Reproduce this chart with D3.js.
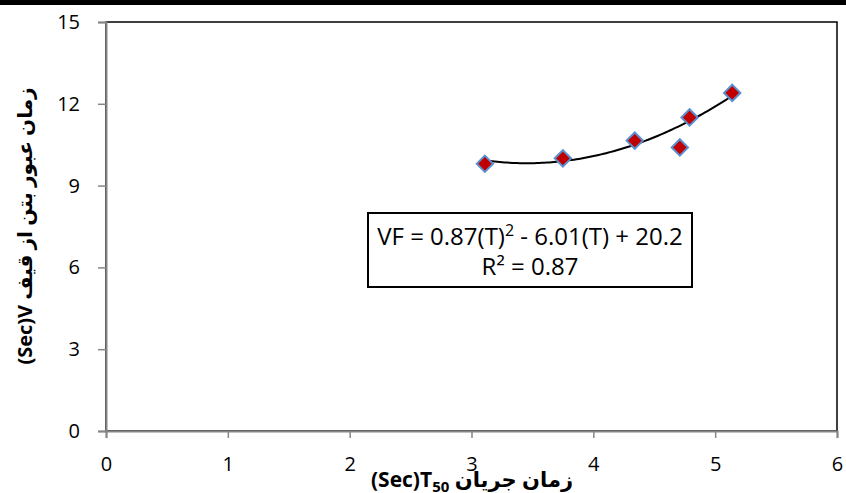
<!DOCTYPE html>
<html>
<head>
<meta charset="utf-8">
<script src="https://cdn.jsdelivr.net/npm/d3@7"></script>
<style>
  body { margin: 0; background: #fff; }
  svg { display: block; }
</style>
</head>
<body>
<svg width="846" height="493"></svg>
<script>
// data
const t50 = [3.11, 3.75, 4.34, 4.71, 4.79, 5.14];
const vFunnel = [9.8, 10.0, 10.65, 10.4, 11.5, 12.4];
const xTicks = [0, 1, 2, 3, 4, 5, 6];
const yTicks = [0, 3, 6, 9, 12, 15];
// trend line coefficients as printed on the chart
const coeffs = [0.87, -6.01, 20.2];
const eqLine = 'VF = 0.87(T)';
const eqLineRest = ' - 6.01(T) + 20.2';
const r2Text = '0.87';

const svg = d3.select('svg');
const WIDTH = 846, HEIGHT = 493;
const margin = { left: 106, right: 9, top: 22, bottom: 62 };

const x = d3.scaleLinear().domain([0, 6]).range([margin.left, WIDTH - margin.right]);
const y = d3.scaleLinear().domain([0, 15]).range([HEIGHT - margin.bottom, margin.top]);

svg.append('rect').attr('x', 0).attr('y', 0).attr('width', WIDTH).attr('height', 5).attr('fill', '#000');

// plot frame
svg.append('rect')
    .attr('x', x(0)).attr('y', y(15))
    .attr('width', x(6) - x(0)).attr('height', y(0) - y(15))
    .attr('fill', 'none').attr('stroke', '#000').attr('stroke-width', 1.5);

const font = '"Open Sans", "DejaVu Sans", sans-serif';

const xAxis = svg.append('g')
    .attr('transform', `translate(0,${y(0)})`)
    .call(d3.axisBottom(x).tickValues(xTicks).tickSize(7).tickPadding(19).tickFormat(d3.format('d')));
const yAxis = svg.append('g')
    .attr('transform', `translate(${x(0)},0)`)
    .call(d3.axisLeft(y).tickValues(yTicks).tickSize(8).tickPadding(18).tickFormat(d3.format('d')));

[xAxis, yAxis].forEach(g => {
    g.select('.domain').attr('stroke', '#868686').attr('stroke-width', 2);
    g.selectAll('.tick line').attr('stroke', '#868686').attr('stroke-width', 1.5);
    g.selectAll('.tick text').attr('fill', '#000').style('font-family', font).style('font-size', '20px');
});

// quadratic trend line
const trend = d3.range(0, 101).map(i => {
    const t = t50[0] + (d3.max(t50) - t50[0]) * i / 100;
    return [t, coeffs[0] * t * t + coeffs[1] * t + coeffs[2]];
});
svg.append('path')
    .attr('d', d3.line().x(d => x(d[0])).y(d => y(d[1]))(trend))
    .attr('fill', 'none').attr('stroke', '#000').attr('stroke-width', 2);

// markers
svg.selectAll('.pt').data(t50).enter().append('path')
    .attr('class', 'pt')
    .attr('transform', (d, i) => `translate(${x(d)},${y(vFunnel[i])})`)
    .attr('d', d3.symbol(d3.symbolDiamond2, 170)())
    .attr('fill', '#C00000').attr('stroke', '#5B8FD0').attr('stroke-width', 2);

// equation box
const boxX = 368, boxY = 213, boxW = 324, boxH = 74;
svg.append('rect').attr('x', boxX).attr('y', boxY).attr('width', boxW).attr('height', boxH)
    .attr('fill', '#fff').attr('stroke', '#000').attr('stroke-width', 2);
const eq = svg.append('text').attr('x', boxX + boxW / 2).attr('y', boxY + 32)
    .attr('text-anchor', 'middle').style('font-family', font).style('font-size', '24px');
eq.append('tspan').text(eqLine);
eq.append('tspan').attr('dy', -9).style('font-size', '16px').text('2');
eq.append('tspan').attr('dy', 9).text(eqLineRest);
svg.append('text').attr('x', boxX + boxW / 2).attr('y', boxY + 62)
    .attr('text-anchor', 'middle').style('font-family', font).style('font-size', '24px')
    .text(`R² = ${r2Text}`);

// axis titles
const xt = svg.append('text').attr('x', 472).attr('y', 487)
    .attr('text-anchor', 'middle').attr('direction', 'ltr')
    .style('font-family', font).style('font-size', '21px').style('font-weight', 'bold');
xt.append('tspan').text('(Sec)T');
xt.append('tspan').attr('dy', 5).style('font-size', '15px').text('50');
xt.append('tspan').attr('dy', -5).text(' زمان جریان');

svg.append('text')
    .attr('transform', 'translate(32,226) rotate(-90)')
    .attr('text-anchor', 'middle').attr('direction', 'ltr')
    .style('font-family', font).style('font-size', '20px').style('font-weight', 'bold')
    .text('(Sec)V زمان عبور بتن از قیف');
</script>
</body>
</html>
